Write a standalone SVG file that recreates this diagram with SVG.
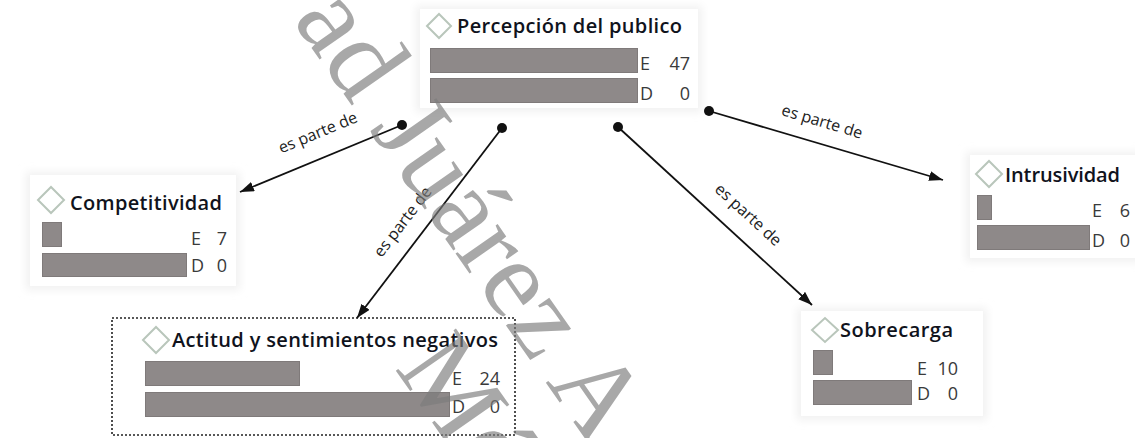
<svg xmlns="http://www.w3.org/2000/svg" width="1135" height="438" viewBox="0 0 1135 438">
<defs>
  <style>
    .bg{fill:#f1f1f1;filter:url(#soft)}
    .card{fill:#ffffff}
    .icon{fill:#ffffff;stroke:#b9c6bb;stroke-width:2}
    .title{font-family:"Open Sans","Liberation Sans",sans-serif;font-weight:600;font-size:20px;fill:#10131c}
    .bar{fill:#8e8989;stroke:#7f7a7a;stroke-width:1}
    .val{font-family:"Open Sans","Liberation Sans",sans-serif;font-size:18px;fill:#3a3a3a}
    .edge{stroke:#111;stroke-width:1.8;fill:none;marker-start:url(#dot);marker-end:url(#arrow)}
    .lbl{font-family:"Open Sans","Liberation Sans",sans-serif;font-size:16px;fill:#222;text-anchor:middle}
    .wm{font-family:"Liberation Serif","Times New Roman",serif;font-size:112px;fill:#7c7c7c;opacity:0.66}
  </style>
  <filter id="soft" x="-10%" y="-10%" width="120%" height="120%"><feGaussianBlur stdDeviation="4"/></filter>
  <marker id="arrow" markerUnits="userSpaceOnUse" markerWidth="16" markerHeight="12" refX="14" refY="5" orient="auto"><path d="M0,0 L14,5 L0,10 z" fill="#111"/></marker>
  <marker id="dot" markerUnits="userSpaceOnUse" markerWidth="12" markerHeight="12" refX="6" refY="6"><circle cx="6" cy="6" r="5" fill="#111"/></marker>
</defs>
<rect width="1135" height="438" fill="#ffffff"/>

<g id="node-percepcion">
  <rect class="bg" x="416" y="6" width="286" height="106"/>
  <rect class="card" x="420" y="9" width="278" height="99"/>
  <polygon class="icon" points="427,26 439,14 451,26 439,38"/>
  <text class="title" x="457" y="33" textLength="225">Percepción del publico</text>
  <rect class="bar" x="430.5" y="48.5" width="207" height="24"/>
  <rect class="bar" x="430.5" y="78.5" width="207" height="24"/>
  <text class="val" x="640" y="70">E</text><text class="val" x="690" y="70" text-anchor="end">47</text>
  <text class="val" x="640" y="100">D</text><text class="val" x="690" y="100" text-anchor="end">0</text>
</g>

<g id="node-competitividad">
  <rect class="bg" x="26" y="172" width="214" height="118"/>
  <rect class="card" x="30" y="175" width="206" height="111"/>
  <polygon class="icon" points="38,200 51,187 64,200 51,213"/>
  <text class="title" x="70" y="210" textLength="152">Competitividad</text>
  <rect class="bar" x="42.5" y="222.5" width="19" height="24"/>
  <rect class="bar" x="42.5" y="253.5" width="144" height="23"/>
  <text class="val" x="191" y="245">E</text><text class="val" x="227" y="245" text-anchor="end">7</text>
  <text class="val" x="191" y="272">D</text><text class="val" x="227" y="272" text-anchor="end">0</text>
</g>

<g id="node-intrusividad">
  <rect class="bg" x="966" y="152" width="175" height="110"/>
  <rect class="card" x="970" y="155" width="171" height="103"/>
  <polygon class="icon" points="976,174 989,161 1002,174 989,187"/>
  <text class="title" x="1005" y="182" textLength="115">Intrusividad</text>
  <rect class="bar" x="977.5" y="195.5" width="14" height="24"/>
  <rect class="bar" x="977.5" y="225.5" width="112" height="24"/>
  <text class="val" x="1092" y="217">E</text><text class="val" x="1130" y="217" text-anchor="end">6</text>
  <text class="val" x="1092" y="247">D</text><text class="val" x="1130" y="247" text-anchor="end">0</text>
</g>

<g id="node-actitud">
  <rect class="card" x="112" y="318" width="403" height="117"/>
  <rect x="112" y="318" width="403" height="117" fill="none" stroke="#222" stroke-width="1.6" stroke-dasharray="2 2"/>
  <polygon class="icon" points="143,340 156,327 169,340 156,353"/>
  <text class="title" x="172" y="347" textLength="326">Actitud y sentimientos negativos</text>
  <rect class="bar" x="145.5" y="361.5" width="154" height="24"/>
  <rect class="bar" x="145.5" y="392.5" width="304" height="24"/>
  <text class="val" x="452" y="385">E</text><text class="val" x="500" y="385" text-anchor="end">24</text>
  <text class="val" x="452" y="413">D</text><text class="val" x="500" y="413" text-anchor="end">0</text>
</g>

<g id="node-sobrecarga">
  <rect class="bg" x="797" y="308" width="190" height="112"/>
  <rect class="card" x="801" y="311" width="182" height="105"/>
  <polygon class="icon" points="812,330 825,318 838,330 825,342"/>
  <text class="title" x="840" y="337" textLength="113">Sobrecarga</text>
  <rect class="bar" x="813.5" y="350.5" width="19" height="24"/>
  <rect class="bar" x="813.5" y="380.5" width="98" height="24"/>
  <text class="val" x="917" y="375">E</text><text class="val" x="958" y="375" text-anchor="end">10</text>
  <text class="val" x="917" y="400">D</text><text class="val" x="958" y="400" text-anchor="end">0</text>
</g>

<g id="connectors">
  <line class="edge" x1="402" y1="125" x2="240" y2="192"/>
  <line class="edge" x1="502" y1="128" x2="357" y2="318"/>
  <line class="edge" x1="618" y1="127" x2="812" y2="305"/>
  <line class="edge" x1="709" y1="111" x2="943" y2="180"/>
  <text class="lbl" transform="translate(318,133) rotate(-22.5)" y="5">es parte de</text>
  <text class="lbl" transform="translate(403,222) rotate(-52.6)" y="5">es parte de</text>
  <text class="lbl" transform="translate(748,215) rotate(42.5)" y="5">es parte de</text>
  <text class="lbl" transform="translate(822,122) rotate(16.6)" y="5">es parte de</text>
</g>

<g id="watermark">
  <text class="wm" transform="translate(292,20) rotate(55)">ad Juárez A</text>
  <text class="wm" transform="translate(394,368) rotate(55)">Mé</text>
</g>
</svg>
